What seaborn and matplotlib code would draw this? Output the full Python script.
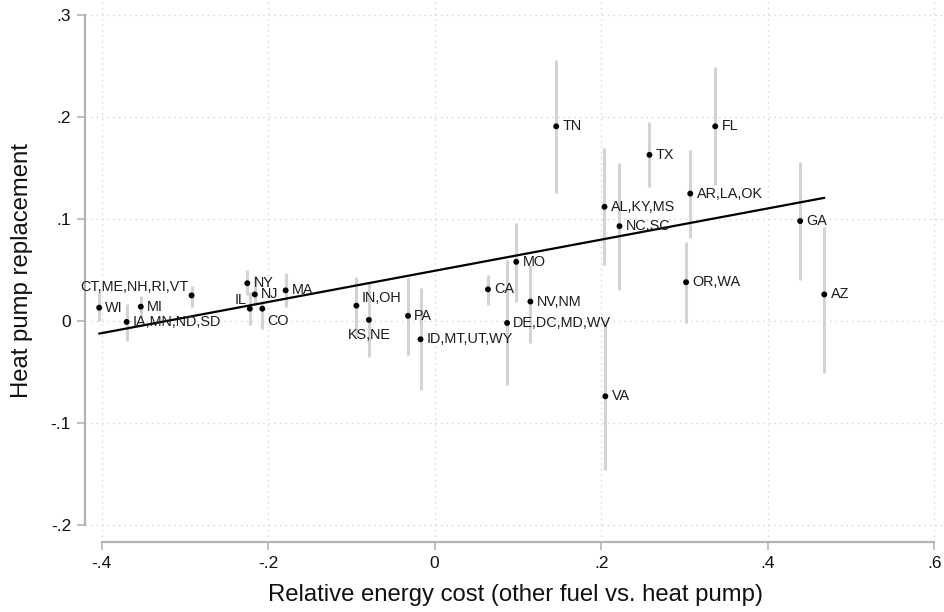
import matplotlib
matplotlib.use("Agg")
import matplotlib.pyplot as plt
import seaborn as sns
import numpy as np
import pandas as pd

# ---- data ----
states = ["WI", "IA,MN,ND,SD", "MI", "CT,ME,NH,RI,VT", "NY", "IL", "NJ", "CO", "MA",
          "IN,OH", "KS,NE", "PA", "ID,MT,UT,WY", "CA", "DE,DC,MD,WV", "MO", "NV,NM",
          "TN", "AL,KY,MS", "VA", "NC,SC", "TX", "OR,WA", "AR,LA,OK", "FL", "GA", "AZ"]
rel_cost = [-0.403, -0.370, -0.353, -0.292, -0.225, -0.222, -0.216, -0.207, -0.179,
            -0.094, -0.079, -0.032, -0.017, 0.064, 0.087, 0.098, 0.115,
            0.146, 0.204, 0.205, 0.222, 0.258, 0.302, 0.307, 0.337, 0.439, 0.468]
hp_repl = [0.013, -0.001, 0.014, 0.025, 0.037, 0.012, 0.026, 0.012, 0.030,
           0.015, 0.001, 0.005, -0.018, 0.031, -0.002, 0.058, 0.019,
           0.191, 0.112, -0.074, 0.093, 0.163, 0.038, 0.125, 0.191, 0.098, 0.026]
ci_low = [0.000, -0.020, 0.003, 0.014, 0.025, -0.004, 0.016, -0.008, 0.014,
          -0.015, -0.035, -0.033, -0.068, 0.016, -0.063, 0.019, -0.022,
          0.126, 0.055, -0.146, 0.030, 0.131, -0.002, 0.081, 0.133, 0.040, -0.051]
ci_high = [0.028, 0.017, 0.024, 0.034, 0.050, 0.028, 0.045, 0.018, 0.047,
           0.043, 0.037, 0.042, 0.032, 0.045, 0.060, 0.096, 0.055,
           0.256, 0.170, 0.001, 0.155, 0.195, 0.077, 0.168, 0.249, 0.156, 0.092]
# label positions (clock style, as in the reference)
label_pos = {"CT,ME,NH,RI,VT": "ul", "IL": "ul", "CO": "lr", "IN,OH": "ur", "KS,NE": "b"}

fit_slope = 0.153
fit_intercept = 0.0492

x_ticks = [-0.4, -0.2, 0, 0.2, 0.4, 0.6]
x_ticklabels = ["-.4", "-.2", "0", ".2", ".4", ".6"]
y_ticks = [-0.2, -0.1, 0, 0.1, 0.2, 0.3]
y_ticklabels = ["-.2", "-.1", "0", ".1", ".2", ".3"]

df = pd.DataFrame({"state": states, "x": rel_cost, "y": hp_repl,
                   "lo": ci_low, "hi": ci_high})

# ---- style ----
sns.set_theme(style="white")
plt.rcParams["font.family"] = ["Liberation Sans", "DejaVu Sans"]

fig = plt.figure(figsize=(9.45, 6.12), dpi=100)
ax = fig.add_axes([85 / 945, 1 - 542 / 612, 1 - 85 / 945, 542 / 612])
ax.set_xlim(-0.420, 0.613)
ax.set_ylim(-0.217, 0.315)

grid_kw = dict(color="#d4d4d4", linewidth=1.0, linestyle=(0, (1, 3)), zorder=0)
for xv in x_ticks:
    ax.axvline(xv, **grid_kw)
for yv in y_ticks:
    ax.axhline(yv, **grid_kw)

# confidence intervals
ax.vlines(df["x"], df["lo"], df["hi"], color="#d3d3d3", linewidth=2.2, zorder=1)

# fitted line
xfit = np.array([df["x"].min(), df["x"].max()])
sns.lineplot(x=xfit, y=fit_intercept + fit_slope * xfit, ax=ax, color="black",
             linewidth=1.6, zorder=3)

# points
sns.scatterplot(data=df, x="x", y="y", ax=ax, color="black", s=18,
                edgecolor="none", zorder=4)

offsets = {"r": ((4.5, 0), "left", "center"),
           "ul": ((-2.5, 6), "right", "center"),
           "lr": ((3.5, -8.5), "left", "center"),
           "ur": ((3.5, 5.5), "left", "center"),
           "b": ((0, -11), "center", "center")}
for s, xv, yv in zip(df["state"], df["x"], df["y"]):
    off, ha, va = offsets[label_pos.get(s, "r")]
    ax.annotate(s, (xv, yv), xytext=off, textcoords="offset points",
                ha=ha, va=va, fontsize=10.4, color="#1c1c1c", zorder=5)

# axes
for sp in ["top", "right"]:
    ax.spines[sp].set_visible(False)
for sp in ["left", "bottom"]:
    ax.spines[sp].set_color("#b4b4b4")
    ax.spines[sp].set_linewidth(1.6)
ax.spines["left"].set_bounds(-0.2, 0.3)
ax.spines["bottom"].set_bounds(-0.4, 0.6)

ax.set_xticks(x_ticks)
ax.set_xticklabels(x_ticklabels)
ax.set_yticks(y_ticks)
ax.set_yticklabels(y_ticklabels)
ax.tick_params(axis="both", which="major", length=6, width=1.2, color="#b4b4b4",
               labelsize=12.5, labelcolor="#111111", direction="out",
               bottom=True, left=True)
ax.tick_params(axis="y", pad=4)
ax.tick_params(axis="x", pad=4)

ax.set_xlabel("Relative energy cost (other fuel vs. heat pump)", fontsize=17.2,
              color="#111111")
ax.set_ylabel("Heat pump replacement", fontsize=17.2, color="#111111")
ax.xaxis.set_label_coords((516 - 85) / 860, -0.098)
ax.xaxis.label.set_verticalalignment("center")
ax.yaxis.set_label_coords(-0.073, 0.5)
ax.yaxis.label.set_verticalalignment("center")

fig.savefig("out.png", dpi=100)
